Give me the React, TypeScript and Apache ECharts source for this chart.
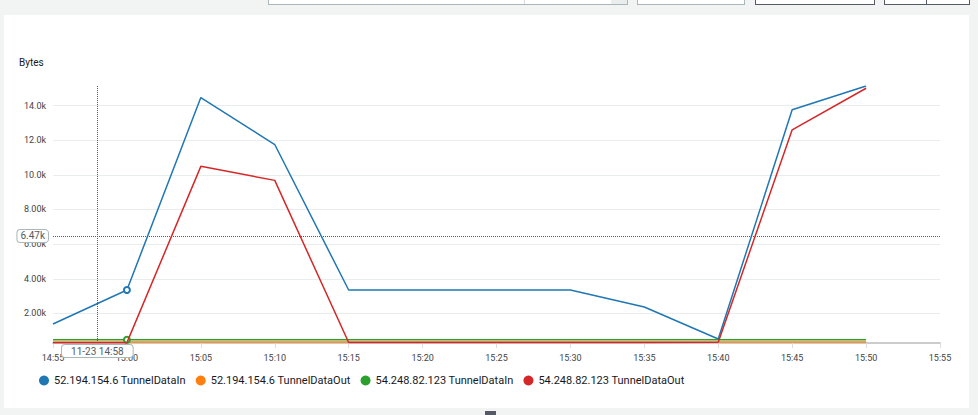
import React, { useEffect, useRef } from "react";
import * as echarts from "echarts";

const DAY = "2024-11-23";
const times = ["14:55", "15:00", "15:05", "15:10", "15:15", "15:20", "15:25", "15:30", "15:35", "15:40", "15:45", "15:50"];
const axisStart = "14:55";
const axisEnd = "15:55";
const tickMinutes = 5;

const seriesNames = [
  "52.194.154.6 TunnelDataIn",
  "52.194.154.6 TunnelDataOut",
  "54.248.82.123 TunnelDataIn",
  "54.248.82.123 TunnelDataOut",
];
const blueIn = [1390, 3350, 14460, 11750, 3350, 3350, 3350, 3350, 2370, 520, 13760, 15130];
const orangeOut = [345, 345, 345, 345, 345, 345, 345, 345, 345, 345, 345, 345];
const greenIn = [480, 480, 480, 480, 480, 480, 480, 480, 480, 480, 480, 480];
const redOut = [310, 310, 10490, 9680, 320, 320, 320, 320, 320, 340, 12600, 15000];
const colors = ["#1f77b4", "#ff7f0e", "#2ca02c", "#d62728"];

const yMin = 290;
const yMax = 15130;
const yStep = 2000;

const pointerTime = "14:58";
const pointerValue = 6470;
const highlightTime = "15:00";

const toTs = (t: string) => new Date(`${DAY}T${t}:00`).getTime();
const pad = (n: number) => String(n).padStart(2, "0");
const fmtTime = (v: number) => {
  const d = new Date(v);
  return `${pad(d.getHours())}:${pad(d.getMinutes())}`;
};
const fmtY = (v: number) => `${(v / 1000).toPrecision(3)}k`;

function buildData(values: number[], markIdx: number | null) {
  return values.map((v, i) => {
    const item: any = { value: [toTs(times[i]), v] };
    if (markIdx === i) {
      item.symbol = "emptyCircle";
      item.symbolSize = 6;
    }
    return item;
  });
}

export default function App() {
  const ref = useRef<HTMLDivElement>(null);
  useEffect(() => {
    if (!ref.current) return;
    const chart = echarts.init(ref.current, undefined, { renderer: "svg" });
    const hi = times.indexOf(highlightTime);
    const allValues = [blueIn, orangeOut, greenIn, redOut];
    const marks = [hi, null, hi, null];
    chart.setOption({
      animation: false,
      textStyle: { fontFamily: "Roboto" },
      title: {
        text: "Bytes",
        left: 14,
        top: 52,
        textStyle: { fontSize: 10, fontWeight: "normal", color: "#16191f", fontFamily: "Roboto" },
      },
      grid: { left: 53, right: 38, top: 86, bottom: 72, containLabel: false },
      legend: {
        data: seriesNames,
        left: 39,
        top: 375,
        padding: 0,
        icon: "circle",
        itemWidth: 10,
        itemHeight: 10,
        itemGap: 10,
        textStyle: { fontSize: 11, color: "#16191f", fontFamily: "Roboto" },
      },
      xAxis: {
        type: "value",
        min: toTs(axisStart),
        max: toTs(axisEnd),
        interval: tickMinutes * 60 * 1000,
        axisLine: { show: true, lineStyle: { color: "#cccccc", width: 2 } },
        axisTick: { show: true, length: 5, lineStyle: { color: "#dddddd" } },
        splitLine: { show: false },
        axisLabel: {
          formatter: (v: number) => fmtTime(v),
          fontSize: 9,
          color: "#444",
          margin: 10,
          hideOverlap: false,
        },
        axisPointer: {
          show: true,
          status: "show",
          value: toTs(pointerTime),
          snap: false,
          triggerTooltip: false,
          type: "line",
          lineStyle: { color: "#545b64", type: "dotted", width: 1 },
          label: {
            show: true,
            formatter: (p: any) => {
              const d = new Date(p.value);
              return `${pad(d.getMonth() + 1)}-${pad(d.getDate())} ${fmtTime(p.value)}`;
            },
            backgroundColor: "#ffffff",
            borderColor: "#aab7b8",
            borderWidth: 1,
            color: "#545b64",
            fontSize: 10,
            padding: [1, 9, 1, 9],
            margin: 2,
            shadowBlur: 0,
          },
        },
      },
      yAxis: {
        type: "value",
        min: yMin,
        max: yMax,
        minInterval: yStep,
        maxInterval: yStep,
        axisLine: { show: false },
        axisTick: { show: false },
        splitLine: { show: true, showMinLine: false, showMaxLine: false, lineStyle: { color: "#eaeded" } },
        axisLabel: {
          formatter: (v: number) => fmtY(v),
          fontSize: 9,
          color: "#444",
          margin: 7,
          showMinLabel: false,
          showMaxLabel: false,
        },
        axisPointer: {
          show: true,
          status: "show",
          value: pointerValue,
          snap: false,
          triggerTooltip: false,
          type: "line",
          lineStyle: { color: "#545b64", type: "dotted", width: 1 },
          label: {
            show: true,
            formatter: (p: any) => fmtY(p.value),
            backgroundColor: "#ffffff",
            borderColor: "#aab7b8",
            borderWidth: 1,
            color: "#545b64",
            fontSize: 10,
            padding: [1, 3, 1, 3],
            margin: 5,
            shadowBlur: 0,
          },
        },
      },
      series: seriesNames.map((name, i) => ({
        name,
        type: "line",
        showSymbol: true,
        symbol: "none",
        color: colors[i],
        lineStyle: { width: 1.5, color: colors[i] },
        itemStyle: { color: colors[i], borderWidth: 1.2 },
        emphasis: { disabled: true },
        data: buildData(allValues[i], marks[i]),
        z: i === 3 ? 4 : 2,
      })),
    });
    return () => chart.dispose();
  }, []);

  return (
    <div style={{ position: "fixed", left: 0, top: 0, width: 978, height: 415, background: "#f2f3f3", overflow: "hidden" }}>
      <div style={{ position: "absolute", left: 268, top: -10, width: 358, height: 13, background: "#fff", border: "1px solid #aab7b8" }} />
      <div style={{ position: "absolute", left: 524, top: -10, width: 1, height: 14, background: "#d5dbdb" }} />
      <div style={{ position: "absolute", left: 611, top: -10, width: 16, height: 14, background: "#eaeded" }} />
      <div style={{ position: "absolute", left: 637, top: -10, width: 106, height: 13, background: "#fff", border: "1px solid #aab7b8" }} />
      <div style={{ position: "absolute", left: 755, top: -10, width: 118, height: 13, background: "#fff", border: "1px solid #545b64" }} />
      <div style={{ position: "absolute", left: 884, top: -10, width: 84, height: 13, background: "#fff", border: "1px solid #545b64" }} />
      <div style={{ position: "absolute", left: 926, top: -10, width: 1, height: 14, background: "#545b64" }} />
      <div style={{ position: "absolute", left: 4, top: 15, width: 965, height: 393, background: "#ffffff" }} />
      <div style={{ position: "absolute", left: 485, top: 411, width: 11, height: 6, background: "#545b64" }} />
      <div ref={ref} style={{ position: "absolute", left: 0, top: 0, width: 978, height: 415 }} />
    </div>
  );
}
